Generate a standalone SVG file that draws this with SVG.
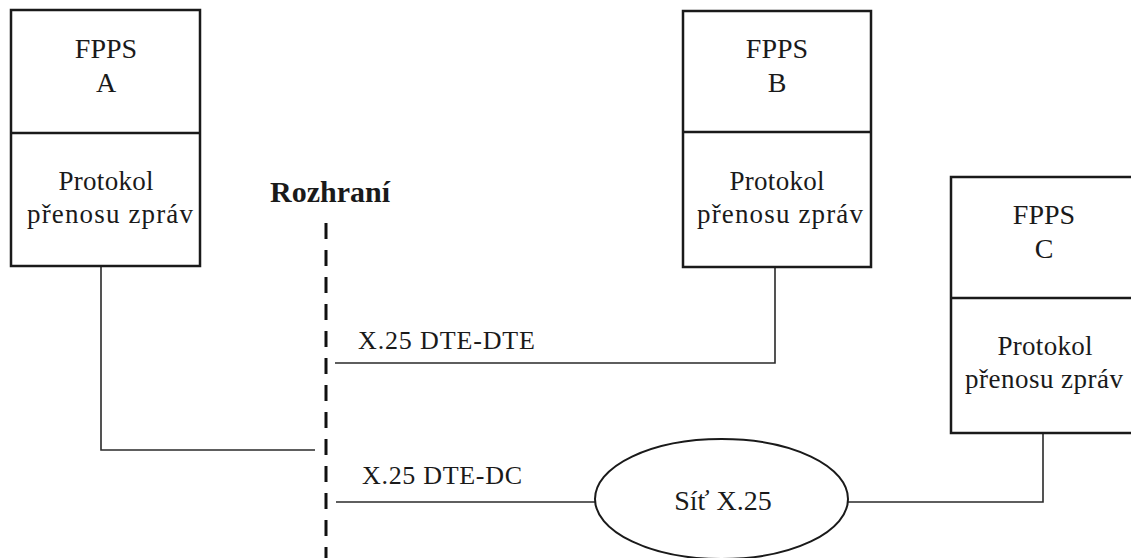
<svg xmlns="http://www.w3.org/2000/svg" width="1131" height="558" viewBox="0 0 1131 558">
<style>
.box{fill:#fff;stroke:#1a1a1a;stroke-width:2.5}
.div{stroke:#1a1a1a;stroke-width:2.5}
.t{font-family:"Liberation Serif","Times New Roman",serif;fill:#1a1a1a;text-anchor:middle}
.h{font-size:28px}
.p{font-size:27px}
.c{fill:none;stroke:#2a2a2a;stroke-width:1.6}
.lbl{font-family:"Liberation Serif","Times New Roman",serif;fill:#1a1a1a;font-size:26px}
</style>
<rect width="1131" height="558" fill="#fff"/>
<g id="connectors">
<polyline class="c" points="101,266 101,450 315,450"/>
<polyline class="c" points="775,267 775,363 335,363"/>
<line class="c" x1="336" y1="502" x2="595" y2="502"/>
<polyline class="c" points="848,502 1043,502 1043,433"/>
</g>
<g id="interface">
<line x1="326" y1="223" x2="326" y2="558" stroke="#111" stroke-width="3" stroke-dasharray="16 11"/>
<text x="330" y="202" class="t" font-size="30" font-weight="bold">Rozhraní</text>
</g>
<g id="fpps-a">
<rect class="box" x="11" y="10" width="189" height="256"/>
<line class="div" x1="11" y1="133" x2="200" y2="133"/>
<text class="t h" x="106" y="58">FPPS</text>
<text class="t h" x="106" y="92">A</text>
<text class="t p" x="106" y="190" textLength="95">Protokol</text>
<text class="t p" x="110" y="223" textLength="166">přenosu zpráv</text>
</g>
<g id="fpps-b">
<rect class="box" x="683" y="11" width="188" height="256"/>
<line class="div" x1="683" y1="132" x2="871" y2="132"/>
<text class="t h" x="777" y="58">FPPS</text>
<text class="t h" x="777" y="92">B</text>
<text class="t p" x="777" y="190" textLength="95">Protokol</text>
<text class="t p" x="780" y="223" textLength="166">přenosu zpráv</text>
</g>
<g id="fpps-c">
<rect class="box" x="951" y="177" width="190" height="256"/>
<line class="div" x1="951" y1="298" x2="1141" y2="298"/>
<text class="t h" x="1044" y="224">FPPS</text>
<text class="t h" x="1044" y="258">C</text>
<text class="t p" x="1045" y="355" textLength="95">Protokol</text>
<text class="t p" x="1044" y="388" textLength="158">přenosu zpráv</text>
</g>
<g id="sit-x25">
<ellipse cx="721.5" cy="499" rx="126.5" ry="60" fill="#fff" stroke="#1a1a1a" stroke-width="2"/>
<text class="t" x="723" y="510" font-size="28">Síť X.25</text>
</g>
<g id="labels">
<text class="lbl" x="358" y="349" textLength="177">X.25 DTE-DTE</text>
<text class="lbl" x="362" y="484" textLength="160">X.25 DTE-DC</text>
</g>
</svg>
